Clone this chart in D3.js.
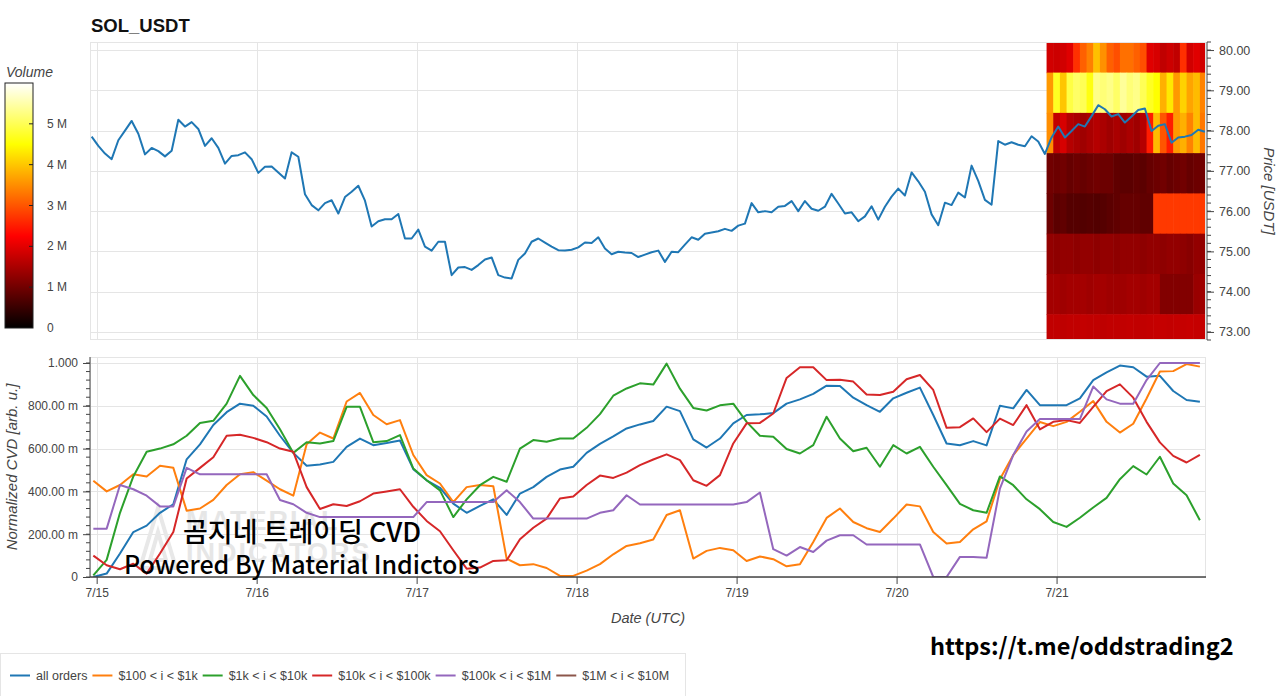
<!DOCTYPE html>
<html>
<head>
<meta charset="utf-8">
<script src="https://cdn.jsdelivr.net/npm/d3@7"></script>
<style>
body { margin: 0; background: #fff; }
text { font-family: "Liberation Sans", Arial, Helvetica, sans-serif; }
</style>
</head>
<body>
<svg id="chart" width="1280" height="696"></svg>
<script>

// hourly SOL price, first candle 7/14 23:15 UTC
var priceValues = [
  77.85, 77.62, 77.43, 77.29, 77.76, 78.00, 78.24, 77.92, 77.41, 77.57, 77.49, 77.36,
  77.50, 78.27, 78.10, 78.21, 78.04, 77.62, 77.81, 77.57, 77.18, 77.37, 77.39, 77.46,
  77.29, 76.95, 77.10, 77.11, 76.96, 76.81, 77.46, 77.35, 76.42, 76.15, 76.02, 76.20,
  76.27, 75.94, 76.35, 76.48, 76.63, 76.26, 75.62, 75.75, 75.80, 75.80, 75.93, 75.32,
  75.32, 75.54, 75.12, 75.02, 75.24, 75.24, 74.41, 74.60, 74.61, 74.54, 74.66, 74.80,
  74.85, 74.41, 74.35, 74.33, 74.79, 74.95, 75.24, 75.32, 75.22, 75.12, 75.03, 75.02,
  75.04, 75.10, 75.22, 75.21, 75.35, 75.07, 74.93, 74.99, 74.97, 74.96, 74.86, 74.92,
  74.98, 75.02, 74.74, 74.99, 74.98, 75.17, 75.35, 75.29, 75.44, 75.47, 75.50, 75.56,
  75.51, 75.64, 75.69, 76.20, 75.97, 76.00, 75.97, 76.11, 76.13, 76.25, 76.00, 76.25,
  76.06, 76.01, 76.11, 76.43, 76.19, 75.94, 75.97, 75.75, 75.87, 76.12, 75.79, 76.11,
  76.36, 76.56, 76.39, 76.96, 76.74, 76.48, 75.92, 75.65, 76.21, 76.15, 76.46, 76.34,
  77.13, 76.75, 76.28, 76.16, 77.74, 77.65, 77.71, 77.65, 77.61, 77.86, 77.73, 77.42,
  77.83, 78.10, 77.83, 77.99, 78.16, 78.10, 78.36, 78.63, 78.53, 78.35, 78.41, 78.20,
  78.35, 78.51, 78.55, 77.99, 78.12, 78.16, 77.70, 77.83, 77.85, 77.89, 78.02, 77.97
];

// normalized CVD, every 2 hours from 7/14 23:30 UTC
var cvdAllOrders = [
  0.00, 0.016, 0.11, 0.21, 0.24, 0.30, 0.34, 0.55, 0.62, 0.71, 0.77, 0.81, 0.80, 0.75, 0.66, 0.58, 0.52,
  0.526, 0.538, 0.608, 0.647, 0.616, 0.626, 0.638, 0.504, 0.452, 0.417, 0.343, 0.30, 0.332, 0.363, 0.29, 0.39, 0.42,
  0.468, 0.502, 0.515, 0.58, 0.622, 0.657, 0.694, 0.713, 0.729, 0.796, 0.775, 0.643, 0.605, 0.647, 0.718, 0.757, 0.76,
  0.766, 0.81, 0.83, 0.856, 0.894, 0.892, 0.838, 0.803, 0.772, 0.835, 0.861, 0.885, 0.757, 0.624, 0.616, 0.635, 0.615,
  0.80, 0.788, 0.874, 0.803, 0.803, 0.803, 0.835, 0.92, 0.956, 0.988, 0.98, 0.936, 0.94, 0.869, 0.827, 0.819
];
var cvd100to1k = [
  0.45, 0.40, 0.43, 0.48, 0.47, 0.52, 0.51, 0.31, 0.32, 0.36, 0.43, 0.48, 0.49, 0.45, 0.41, 0.38, 0.62,
  0.675, 0.647, 0.82, 0.86, 0.757, 0.714, 0.733, 0.57, 0.476, 0.437, 0.35, 0.42, 0.43, 0.424, 0.086, 0.055, 0.06,
  0.042, 0.005, 0.005, 0.03, 0.06, 0.106, 0.145, 0.158, 0.175, 0.29, 0.312, 0.086, 0.122, 0.136, 0.125, 0.075, 0.096,
  0.083, 0.05, 0.06, 0.164, 0.276, 0.32, 0.257, 0.228, 0.21, 0.273, 0.339, 0.33, 0.21, 0.156, 0.164, 0.223, 0.26,
  0.457, 0.57, 0.647, 0.724, 0.705, 0.725, 0.772, 0.822, 0.725, 0.675, 0.716, 0.834, 0.96, 0.962, 0.995, 0.983
];
var cvd1kto10k = [
  0.008, 0.08, 0.30, 0.47, 0.585, 0.60, 0.62, 0.66, 0.72, 0.73, 0.81, 0.94, 0.85, 0.79, 0.69, 0.58, 0.63,
  0.624, 0.635, 0.795, 0.795, 0.63, 0.635, 0.663, 0.507, 0.452, 0.405, 0.28, 0.363, 0.429, 0.468, 0.445, 0.60, 0.64,
  0.632, 0.647, 0.647, 0.697, 0.761, 0.847, 0.881, 0.905, 0.899, 0.997, 0.88, 0.79, 0.778, 0.802, 0.81, 0.725, 0.66,
  0.655, 0.598, 0.577, 0.616, 0.749, 0.647, 0.588, 0.604, 0.515, 0.616, 0.577, 0.608, 0.515, 0.429, 0.342, 0.312, 0.30,
  0.47, 0.429, 0.363, 0.317, 0.257, 0.234, 0.277, 0.325, 0.37, 0.457, 0.518, 0.479, 0.562, 0.437, 0.382, 0.265
];
var cvd10kto100k = [
  0.10, 0.055, 0.036, 0.062, 0.016, 0.11, 0.21, 0.46, 0.51, 0.56, 0.66, 0.665, 0.65, 0.63, 0.60, 0.585, 0.42,
  0.318, 0.34, 0.332, 0.354, 0.39, 0.40, 0.41, 0.328, 0.262, 0.214, 0.125, 0.039, 0.044, 0.075, 0.078, 0.176, 0.23,
  0.273, 0.367, 0.376, 0.43, 0.474, 0.463, 0.488, 0.523, 0.549, 0.573, 0.546, 0.452, 0.426, 0.476, 0.624, 0.718, 0.72,
  0.764, 0.93, 0.98, 0.98, 0.92, 0.922, 0.913, 0.853, 0.85, 0.866, 0.924, 0.944, 0.874, 0.697, 0.70, 0.741, 0.677,
  0.74, 0.71, 0.803, 0.69, 0.725, 0.733, 0.72, 0.795, 0.869, 0.90, 0.838, 0.725, 0.629, 0.566, 0.535, 0.571
];
var cvd100kto1M = [
  0.226, 0.226, 0.43, 0.41, 0.38, 0.33, 0.33, 0.51, 0.48, 0.48, 0.48, 0.48, 0.48, 0.48, 0.36, 0.34, 0.30,
  0.28, 0.28, 0.28, 0.28, 0.28, 0.28, 0.28, 0.28, 0.35, 0.35, 0.35, 0.35, 0.35, 0.35, 0.405, 0.35, 0.273,
  0.273, 0.273, 0.273, 0.273, 0.30, 0.312, 0.382, 0.339, 0.339, 0.339, 0.339, 0.339, 0.339, 0.339, 0.339, 0.35, 0.395,
  0.13, 0.10, 0.14, 0.117, 0.17, 0.195, 0.195, 0.152, 0.152, 0.152, 0.152, 0.152, 0.0, 0.0, 0.094, 0.094, 0.09,
  0.413, 0.57, 0.68, 0.738, 0.738, 0.738, 0.738, 0.89, 0.83, 0.81, 0.81, 0.92, 1.0, 1.0, 1.0, 1.0
];
var cvd1Mto10M = [];   // no visible line in the picture

var seriesNames = ["all orders", "$100 < i < $1k", "$1k < i < $10k", "$10k < i < $100k", "$100k < i < $1M", "$1M < i < $10M"];
var seriesColors = ["#1f77b4", "#ff7f0e", "#2ca02c", "#d62728", "#9467bd", "#8c564b"];

// volume profile heatmap, millions, one row per price bin (top = 80), hourly columns from 7/20 22:30
var priceBinCenters = [80, 79, 78, 77, 76, 75, 74, 73];
var heatVolume = [
  [1.84, 1.80, 1.84, 1.98, 2.67, 3.10, 3.38, 3.94, 3.52, 3.10, 2.95, 3.24, 3.24, 3.10, 2.95, 1.98, 1.90, 1.69, 1.80, 1.69, 2.67, 1.84, 1.98, 1.84],
  [3.60, 4.70, 4.00, 4.90, 5.10, 5.00, 4.60, 5.30, 5.20, 5.30, 5.10, 5.40, 5.20, 5.30, 5.00, 4.70, 4.50, 3.80, 4.30, 3.60, 4.10, 3.70, 3.90, 3.40],
  [3.50, 1.70, 1.90, 1.60, 1.50, 1.40, 1.50, 1.60, 1.50, 1.40, 1.50, 1.40, 1.50, 1.40, 1.60, 2.50, 3.90, 3.00, 2.50, 3.60, 3.80, 3.40, 3.90, 3.30],
  [1.00, 0.95, 1.00, 0.90, 0.95, 0.90, 0.95, 1.00, 0.95, 0.95, 0.85, 0.80, 0.80, 0.85, 0.80, 0.90, 0.95, 1.00, 0.90, 0.95, 1.00, 0.90, 0.95, 1.00],
  [0.95, 0.80, 0.85, 0.75, 0.75, 0.72, 0.75, 0.72, 0.75, 0.80, 0.85, 0.90, 0.90, 0.90, 0.85, 0.85, 2.75, 2.75, 2.75, 2.75, 2.75, 2.75, 2.75, 2.75],
  [1.30, 1.25, 1.30, 1.30, 1.25, 1.30, 1.30, 1.25, 1.30, 1.30, 1.25, 1.30, 1.30, 1.30, 1.25, 1.30, 1.30, 1.25, 1.30, 1.30, 1.25, 1.20, 1.30, 1.30],
  [1.45, 1.45, 1.40, 1.45, 1.45, 1.45, 1.40, 1.45, 1.45, 1.40, 1.40, 1.40, 1.45, 1.45, 1.40, 1.45, 1.45, 1.15, 1.15, 1.15, 1.15, 1.15, 1.35, 1.40],
  [1.70, 1.70, 1.68, 1.70, 1.70, 1.72, 1.70, 1.70, 1.68, 1.70, 1.70, 1.70, 1.72, 1.70, 1.70, 1.72, 1.74, 1.74, 1.72, 1.74, 1.74, 1.76, 1.74, 1.74]
];

var priceTicks = [73, 74, 75, 76, 77, 78, 79, 80];
var cvdTicks = [0, 0.2, 0.4, 0.6, 0.8, 1.0];
var cvdTickLabels = ["0", "200.00 m", "400.00 m", "600.00 m", "800.00 m", "1.000"];
var volumeTicks = [0, 1, 2, 3, 4, 5];
var volumeTickLabels = ["0", "1 M", "2 M", "3 M", "4 M", "5 M"];
var dayTicks = [15, 16, 17, 18, 19, 20, 21].map(function(d) { return new Date(Date.UTC(2022, 6, d)); });

var HOUR = 3600e3;
var priceStart = Date.UTC(2022, 6, 14, 23, 15);
var cvdStart = Date.UTC(2022, 6, 14, 23, 30);
var heatStart = Date.UTC(2022, 6, 20, 22, 30);

var L = 90, R = 1206;
var top0 = 42, top1 = 340;
var bot0 = 357, bot1 = 577;
var gridColor = "#e5e5e5", axisColor = "#444", labelColor = "#444";

var svg = d3.select("#chart");

var x = d3.scaleUtc()
  .domain([new Date(Date.UTC(2022, 6, 14, 23, 0)), new Date(Date.UTC(2022, 6, 21, 22, 25))])
  .range([L, R]);
var yPrice = d3.scaleLinear().domain([72.8, 80.2]).range([top1, top0]);
var yCvd = d3.scaleLinear().domain([0, 1.028]).range([bot1, bot0]);
var yVol = d3.scaleLinear().domain([0, 6]).range([328, 83]);
var volColor = d3.scaleLinear()
  .domain([0, 2.25, 4.5, 6])
  .range(["#000000", "#ff0000", "#ffff00", "#ffffff"])
  .clamp(true);

// clip paths
var defs = svg.append("defs");
defs.append("clipPath").attr("id", "clipTop").append("rect")
  .attr("x", L).attr("y", top0).attr("width", R - L).attr("height", top1 - top0);
defs.append("clipPath").attr("id", "clipBot").append("rect")
  .attr("x", L).attr("y", bot0 - 2).attr("width", R - L).attr("height", bot1 - bot0 + 2);

// title
svg.append("text").attr("x", 91).attr("y", 32)
  .style("font-size", "18.5px").style("font-weight", "bold").attr("fill", "#111")
  .text("SOL_USDT");

// ---------- top panel ----------
var topG = svg.append("g");
topG.selectAll(".hg").data(priceTicks).enter().append("line")
  .attr("x1", L).attr("x2", R)
  .attr("y1", function(d) { return Math.round(yPrice(d)) + 0.5; })
  .attr("y2", function(d) { return Math.round(yPrice(d)) + 0.5; })
  .attr("stroke", gridColor);
topG.selectAll(".vg").data(dayTicks).enter().append("line")
  .attr("y1", top0).attr("y2", top1)
  .attr("x1", function(d) { return Math.round(x(d)) + 0.5; })
  .attr("x2", function(d) { return Math.round(x(d)) + 0.5; })
  .attr("stroke", gridColor);

// heatmap cells
var cells = [];
heatVolume.forEach(function(row, r) {
  row.forEach(function(v, c) {
    cells.push({ p: priceBinCenters[r], t0: heatStart + c * HOUR, t1: heatStart + (c + 1) * HOUR, v: v });
  });
});
topG.append("g").attr("clip-path", "url(#clipTop)")
  .selectAll("rect").data(cells).enter().append("rect")
  .attr("x", function(d) { return x(d.t0); })
  .attr("width", function(d) { return x(d.t1) - x(d.t0) + 0.6; })
  .attr("y", function(d) { return yPrice(d.p + 0.44); })
  .attr("height", function(d) { return yPrice(d.p - 0.56) - yPrice(d.p + 0.44) + 0.6; })
  .attr("fill", function(d) { return volColor(d.v); });

var priceLine = d3.line()
  .x(function(d, i) { return x(priceStart + i * HOUR); })
  .y(function(d) { return yPrice(d); });
topG.append("path").attr("clip-path", "url(#clipTop)")
  .datum(priceValues)
  .attr("d", priceLine)
  .attr("fill", "none").attr("stroke", "#1f77b4").attr("stroke-width", 2).attr("stroke-linejoin", "round");

topG.append("rect").attr("x", L + 0.5).attr("y", top0 + 0.5)
  .attr("width", R - L - 1).attr("height", top1 - top0 - 1)
  .attr("fill", "none").attr("stroke", gridColor);

// right price axis
var priceAxis = d3.axisRight(yPrice).tickValues(priceTicks).tickSize(7).tickPadding(5)
  .tickFormat(d3.format(".2f"));
var pa = svg.append("g").attr("transform", "translate(" + (R + 1) + ",0)").call(priceAxis);
pa.select(".domain").attr("stroke", axisColor).attr("d", "M0," + top0 + "V" + top1);
pa.selectAll(".tick line").attr("stroke", axisColor);
pa.selectAll(".tick text").attr("fill", labelColor).style("font-size", "12.5px").style("font-family", "Liberation Sans, Arial, sans-serif");
svg.append("g").attr("transform", "translate(" + (R + 1) + ",0)")
  .selectAll("line").data(d3.range(72.8, 80.21, 0.2)).enter().append("line")
  .attr("x1", 0).attr("x2", 4)
  .attr("y1", function(d) { return yPrice(d); }).attr("y2", function(d) { return yPrice(d); })
  .attr("stroke", axisColor);
svg.append("text")
  .attr("transform", "translate(1264," + ((top0 + top1) / 2) + ") rotate(90)")
  .attr("text-anchor", "middle").style("font-size", "15px").style("font-style", "italic")
  .attr("fill", labelColor).text("Price [USDT]");

// colour bar
var grad = defs.append("linearGradient").attr("id", "volGrad")
  .attr("x1", 0).attr("y1", 1).attr("x2", 0).attr("y2", 0);
grad.selectAll("stop").data(volColor.domain()).enter().append("stop")
  .attr("offset", function(d) { return d / 6; })
  .attr("stop-color", function(d) { return volColor(d); });
svg.append("rect").attr("x", 5).attr("y", yVol(6)).attr("width", 28).attr("height", yVol(0) - yVol(6))
  .attr("fill", "url(#volGrad)").attr("stroke", "#222").attr("stroke-width", 1);
svg.selectAll(".vt").data(volumeTicks.slice(1)).enter().append("line")
  .attr("x1", 29).attr("x2", 33)
  .attr("y1", function(d) { return yVol(d); }).attr("y2", function(d) { return yVol(d); })
  .attr("stroke", "#222");
svg.selectAll(".vl").data(volumeTicks).enter().append("text")
  .attr("x", 47).attr("y", function(d) { return yVol(d) + 4; })
  .style("font-size", "12px").attr("fill", labelColor)
  .text(function(d, i) { return volumeTickLabels[i]; });
svg.append("text").attr("x", 6).attr("y", 77)
  .style("font-size", "14px").style("font-style", "italic").attr("fill", labelColor).text("Volume");

// ---------- bottom panel ----------
var botG = svg.append("g");
botG.selectAll(".hg").data(cvdTicks).enter().append("line")
  .attr("x1", L).attr("x2", R)
  .attr("y1", function(d) { return Math.round(yCvd(d)) + 0.5; })
  .attr("y2", function(d) { return Math.round(yCvd(d)) + 0.5; })
  .attr("stroke", gridColor);
botG.selectAll(".vg").data(dayTicks).enter().append("line")
  .attr("y1", bot0).attr("y2", bot1)
  .attr("x1", function(d) { return Math.round(x(d)) + 0.5; })
  .attr("x2", function(d) { return Math.round(x(d)) + 0.5; })
  .attr("stroke", gridColor);
botG.append("rect").attr("x", L + 0.5).attr("y", bot0 + 0.5)
  .attr("width", R - L - 1).attr("height", bot1 - bot0)
  .attr("fill", "none").attr("stroke", gridColor);

// faint watermark logo behind the lines
var wm = botG.append("g").attr("fill", "#e6e6e6");
wm.append("path").attr("d", "M140,568 L158,508 L176,568 Z M150,560 L158,532 L166,560 Z")
  .attr("fill", "none").attr("stroke", "#e8e8e8").attr("stroke-width", 4);
wm.append("text").attr("x", 186).attr("y", 530).style("font-size", "27px").style("font-weight", "bold")
  .style("letter-spacing", "2px").text("MATERIAL");
wm.append("text").attr("x", 186).attr("y", 562).style("font-size", "27px").style("font-weight", "bold")
  .style("letter-spacing", "2px").text("INDICATORS");

var cvdSeries = [cvdAllOrders, cvd100to1k, cvd1kto10k, cvd10kto100k, cvd100kto1M, cvd1Mto10M];
var cvdLine = d3.line()
  .x(function(d, i) { return x(cvdStart + i * 2 * HOUR); })
  .y(function(d) { return yCvd(d); });
var linesG = botG.append("g").attr("clip-path", "url(#clipBot)");
cvdSeries.forEach(function(s, i) {
  if (!s.length) return;
  linesG.append("path").datum(s).attr("d", cvdLine)
    .attr("fill", "none").attr("stroke", seriesColors[i]).attr("stroke-width", 2)
    .attr("stroke-linejoin", "round");
});

// axes
var xAxis = d3.axisBottom(x).tickValues(dayTicks).tickSize(7).tickPadding(4)
  .tickFormat(d3.utcFormat("%-m/%-d"));
var xa = svg.append("g").attr("transform", "translate(0," + bot1 + ")").call(xAxis);
xa.select(".domain").attr("stroke", axisColor).attr("stroke-width", 1.5).attr("d", "M" + L + ",0H" + R);
xa.selectAll(".tick line").attr("stroke", axisColor);
xa.selectAll(".tick text").attr("fill", labelColor).style("font-size", "12px").style("font-family", "Liberation Sans, Arial, sans-serif");

var yAxis = d3.axisLeft(yCvd).tickValues(cvdTicks).tickSize(7).tickPadding(5)
  .tickFormat(function(d, i) { return cvdTickLabels[i]; });
var ya = svg.append("g").attr("transform", "translate(" + L + ",0)").call(yAxis);
ya.select(".domain").attr("stroke", axisColor).attr("d", "M0," + bot0 + "V" + bot1);
ya.selectAll(".tick line").attr("stroke", axisColor);
ya.selectAll(".tick text").attr("fill", labelColor).style("font-size", "12px").style("font-family", "Liberation Sans, Arial, sans-serif");
svg.append("g").attr("transform", "translate(" + L + ",0)")
  .selectAll("line").data(d3.range(0, 1.021, 0.04)).enter().append("line")
  .attr("x1", -4).attr("x2", 0)
  .attr("y1", function(d) { return yCvd(d); }).attr("y2", function(d) { return yCvd(d); })
  .attr("stroke", axisColor);

svg.append("text").attr("x", (L + R) / 2).attr("y", 623).attr("text-anchor", "middle")
  .style("font-size", "14.5px").style("font-style", "italic").attr("fill", labelColor).text("Date (UTC)");
svg.append("text")
  .attr("transform", "translate(17," + ((bot0 + bot1) / 2) + ") rotate(-90)")
  .attr("text-anchor", "middle").style("font-size", "15px").style("font-style", "italic")
  .attr("fill", labelColor).text("Normalized CVD [arb. u.]");

// overlay captions
var cjk = "'Noto Sans CJK KR', 'Noto Sans', sans-serif";
svg.append("text").attr("x", 183).attr("y", 542).style("font-family", cjk)
  .style("font-size", "27px").style("font-weight", "500").attr("fill", "#000").text("곰지네 트레이딩 CVD");
svg.append("text").attr("x", 124).attr("y", 574).style("font-family", cjk)
  .style("font-size", "25px").style("font-weight", "500").attr("fill", "#000").text("Powered By Material Indictors");
svg.append("text").attr("x", 930).attr("y", 655).style("font-family", cjk)
  .style("font-size", "23.5px").style("font-weight", "bold").attr("fill", "#000").text("https://t.me/oddstrading2");

// legend
var lg = svg.append("g");
lg.append("rect").attr("x", 0.5).attr("y", 653.5).attr("width", 685).attr("height", 60)
  .attr("fill", "#fff").attr("stroke", gridColor);
var cx = 10;
seriesNames.forEach(function(name, i) {
  lg.append("line").attr("x1", cx).attr("x2", cx + 20).attr("y1", 675.5).attr("y2", 675.5)
    .attr("stroke", seriesColors[i]).attr("stroke-width", 2);
  var t = lg.append("text").attr("x", cx + 26).attr("y", 680)
    .style("font-size", "12.5px").attr("fill", labelColor).text(name);
  cx += 26 + t.node().getComputedTextLength() + 5;
});

</script>
</body>
</html>
